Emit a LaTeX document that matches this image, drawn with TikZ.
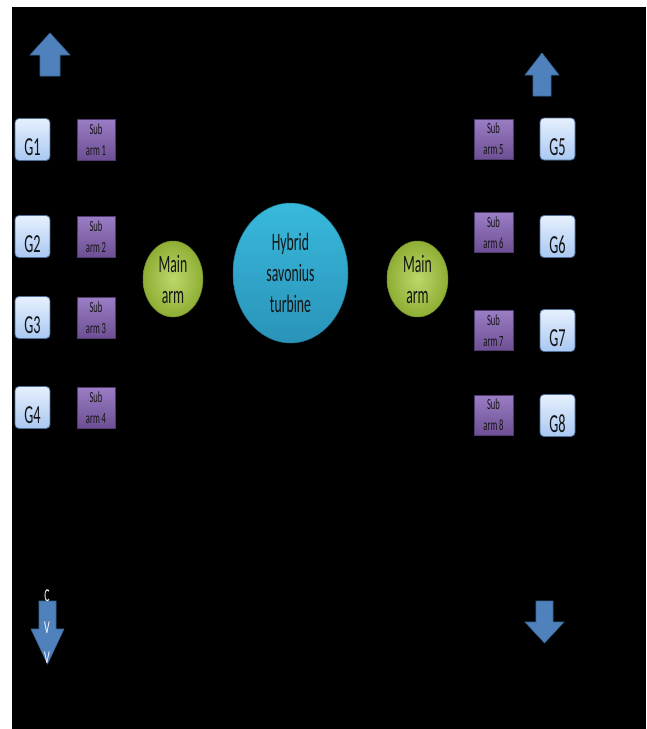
\documentclass[tikz,border=0pt]{standalone}
\usepackage{fontspec}
\newfontfamily\calfont[FakeStretch=0.55]{Carlito}
\usetikzlibrary{shapes.geometric}
\definecolor{gtop}{HTML}{E6F0FD}
\definecolor{gbot}{HTML}{A9C8F2}
\definecolor{gborder}{HTML}{4E6E98}
\definecolor{subtop}{HTML}{9A7DC4}
\definecolor{subbot}{HTML}{6E4F96}
\definecolor{subborder}{HTML}{4F3A6E}
\definecolor{armin}{HTML}{BCD86A}
\definecolor{armout}{HTML}{8EAE34}
\definecolor{turtop}{HTML}{38B9DC}
\definecolor{turbot}{HTML}{2A93B8}
\definecolor{arrowfill}{HTML}{4F81BD}
\definecolor{arrowborder}{HTML}{3A6796}
\definecolor{txt}{HTML}{141414}
\tikzset{
  gbox/.style={draw=gborder, line width=0.8pt, rounded corners=4pt,
    top color=gtop, bottom color=gbot, minimum width=35pt, minimum height=42pt,
    inner sep=0pt, text=txt, font=\calfont\fontsize{26}{30}\selectfont},
  subbox/.style={draw=subborder, line width=0.6pt, top color=subtop, bottom color=subbot,
    minimum width=38pt, minimum height=41pt, inner sep=0pt, align=center, text=txt,
    font=\calfont\fontsize{15.5}{21}\selectfont},
  armshape/.style={ellipse, draw=armout!80!black, line width=0.5pt, inner color=armin,
    outer color=armout, minimum width=60pt, minimum height=76pt, inner sep=0pt},
  turshape/.style={ellipse, draw=turbot!80!black, line width=0.5pt, top color=turtop,
    bottom color=turbot, minimum width=115pt, minimum height=140pt, inner sep=0pt},
  bigtext/.style={align=center, text=txt, inner sep=0pt,
    font=\calfont\fontsize{25}{31}\selectfont},
  arrowpath/.style={fill=arrowfill, draw=arrowborder, line width=0.6pt, line join=miter},
  cvvtext/.style={anchor=base, text=white, inner sep=0pt,
    font=\calfont\fontsize{18}{20}\selectfont}
}
\newcommand{\gtxt}[1]{\raisebox{-8pt}[\height][\depth]{#1}}
\begin{document}
\begin{tikzpicture}[x=1pt,y=-1pt]
\useasboundingbox (0,0) rectangle (646,729);
\fill[white] (0,0) rectangle (646,729);
\fill[black] (12,7) rectangle (646,729);

% arrows
\draw[arrowpath] (50,33) -- (70,55) -- (60,55) -- (60,76) -- (40,76) -- (40,55) -- (30,55) -- cycle;
\draw[arrowpath] (542,53) -- (559,75) -- (551,75) -- (551,96) -- (533,96) -- (533,75) -- (525,75) -- cycle;
\draw[arrowpath] (39,601) -- (56,601) -- (56,629) -- (64,629) -- (47.5,664) -- (31,629) -- (39,629) -- cycle;
\draw[arrowpath] (536,601) -- (553,601) -- (553,622) -- (564,622) -- (544.5,643) -- (525,622) -- (536,622) -- cycle;
\node[cvvtext] (c1) at (47,601) {C};
\node[cvvtext] (v1) at (47,633) {V};
\node[cvvtext] (v2) at (47,663) {V};

% left column
\node[gbox] (g1) at (32.5,139.5) {\gtxt{G1}};
\node[gbox] (g2) at (32.5,236.5) {\gtxt{G2}};
\node[gbox] (g3) at (32.5,317.5) {\gtxt{G3}};
\node[gbox] (g4) at (32.5,407.5) {\gtxt{G4}};
\node[subbox] (s1) at (96,139.5) {Sub\\arm 1};
\node[subbox] (s2) at (96,237) {Sub\\arm 2};
\node[subbox] (s3) at (96,318) {Sub\\arm 3};
\node[subbox] (s4) at (96,407.5) {Sub\\arm 4};

% right column
\node[subbox, minimum width=39pt, minimum height=40pt] (s5) at (493.5,139) {Sub\\arm 5};
\node[subbox, minimum width=39pt, minimum height=40pt] (s6) at (493.5,232.5) {Sub\\arm 6};
\node[subbox, minimum width=39pt, minimum height=40pt] (s7) at (493.5,330.5) {Sub\\arm 7};
\node[subbox, minimum width=39pt, minimum height=40pt] (s8) at (493.5,415) {Sub\\arm 8};
\node[gbox] (g5) at (557.5,139) {\gtxt{G5}};
\node[gbox] (g6) at (557.5,236.5) {\gtxt{G6}};
\node[gbox] (g7) at (557.5,330.5) {\gtxt{G7}};
\node[gbox] (g8) at (557.5,415.5) {\gtxt{G8}};

% centre
\node[armshape] (armL) at (173,279) {};
\node[bigtext] (armLt) at (armL) {Main\\arm};
\node[turshape] (tur) at (290.5,273) {};
\node[bigtext] (turt) at (tur) {Hybrid\\savonius\\turbine};
\node[armshape, minimum width=61pt] (armR) at (417.5,279) {};
\node[bigtext] (armRt) at (armR) {Main\\arm};
\end{tikzpicture}
\end{document}
